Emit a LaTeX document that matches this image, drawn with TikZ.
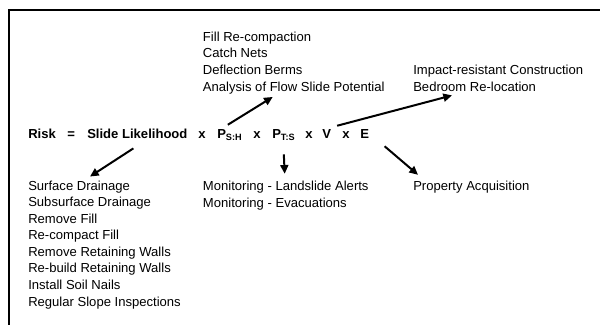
\documentclass[tikz,border=0pt]{standalone}
\usepackage{fontspec}
\setmainfont{Liberation Sans}
\usepackage{tikz}
\usetikzlibrary{arrows.meta,positioning,calc}

\begin{document}
\begin{tikzpicture}[
  x=0.75pt, y=-0.75pt,
  term/.style={inner sep=0pt, anchor=base west, font=\fontsize{9.8}{12.4}\selectfont\bfseries},
  measure/.style={inner sep=0pt, anchor=base west, align=left, font=\fontsize{9.8}{12.4}\selectfont},
  arr/.style={-{Triangle[length=6.5pt, width=6pt]}, line width=1.5pt},
  frame/.style={line width=1.5pt},
]
\useasboundingbox (0,0) rectangle (600,325);

% Frame (top and left edges only)
\draw[frame] (600,10) -- (9,10) -- (9,325);

% Risk equation
\node[term] (risk)  at (28,138)  {Risk};
\node[term] (eqs)   at (67,138)  {=};
\node[term] (slide) at (87,138)  {Slide Likelihood};
\node[term] (x1)    at (198,138) {x};
\node[term] (psh)   at (217,138) {P\textsubscript{S:H}};
\node[term] (x2)    at (253,138) {x};
\node[term] (pts)   at (272,138) {P\textsubscript{T:S}};
\node[term] (x3)    at (305,138) {x};
\node[term] (vul)   at (322,138) {V};
\node[term] (x4)    at (342,138) {x};
\node[term] (elem)  at (360,138) {E};

% Mitigation measures (placed by the baseline of their last line)
\node[measure] (fill) at (202.7,91) {Fill Re-compaction\\Catch Nets\\Deflection Berms\\Analysis of Flow Slide Potential};
\node[measure] (impact) at (413,91) {Impact-resistant Construction\\Bedroom Re-location};
\node[measure] (drain) at (28,306) {Surface Drainage\\Subsurface Drainage\\Remove Fill\\Re-compact Fill\\Remove Retaining Walls\\Re-build Retaining Walls\\Install Soil Nails\\Regular Slope Inspections};
\node[measure] (monit) at (202.7,207) {Monitoring - Landslide Alerts\\Monitoring - Evacuations};
\node[measure] (acq) at (413,190.5) {Property Acquisition};

% Arrows
\draw[arr] ([shift={(-4,10)}]slide.south) -- ([shift={(62,-4)}]drain.north west);
\draw[arr] ([shift={(-2,-4)}]psh.north) -- ([shift={(70,3)}]fill.south west);
\draw[arr] ([shift={(0,14)}]pts.south) -- ([shift={(82,-7)}]monit.north west);
\draw[arr] ([shift={(10.5,-3)}]vul.north) -- ([shift={(39,4)}]impact.south west);
\draw[arr] ([shift={(20,8)}]elem.south) -- ([shift={(5,-6)}]acq.north west);

\end{tikzpicture}
\end{document}
